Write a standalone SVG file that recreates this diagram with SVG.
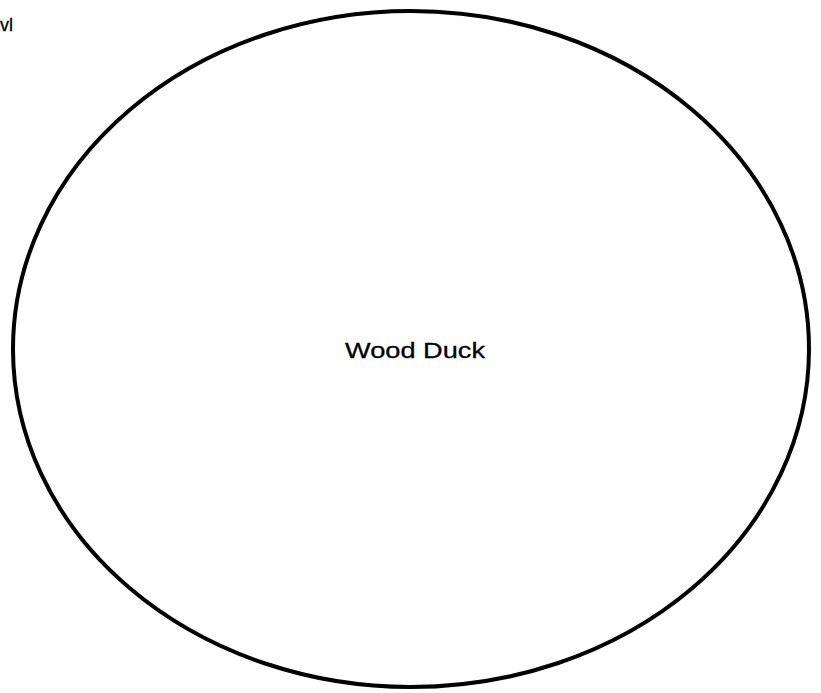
<svg xmlns="http://www.w3.org/2000/svg" width="821" height="693" viewBox="0 0 821 693">
<style>
text{font-family:"Liberation Sans",Arial,sans-serif;fill:#000}
.shape{fill:none;stroke:#000;stroke-width:4}
.lbl{stroke:#000;stroke-width:0.3}
</style>
<rect width="821" height="693" fill="#fff"/>
<g id="label-vl"><text class="lbl" x="13" y="31" font-size="18" text-anchor="end">vl</text></g>
<g id="node-wood-duck">
<ellipse class="shape" cx="411" cy="349" rx="398" ry="338"/>
<text class="lbl" x="345" y="358" font-size="22" textLength="140" lengthAdjust="spacingAndGlyphs">Wood Duck</text>
</g>
<g id="connectors"></g>
</svg>
